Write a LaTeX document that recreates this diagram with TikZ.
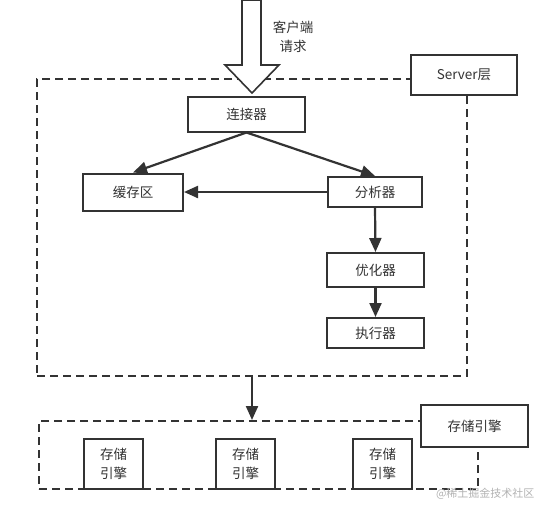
\documentclass[tikz,border=0pt]{standalone}
\usepackage{fontspec}
\setmainfont{Noto Sans CJK SC}
\usetikzlibrary{arrows.meta}
\definecolor{ink}{HTML}{333333}
\tikzset{
  box/.style={draw=ink, line width=2pt, fill=white, text=ink, inner sep=0pt, font=\fontsize{13.5}{16}\selectfont},
  dashbox/.style={draw=ink, line width=2pt, dash pattern=on 8pt off 5pt, inner sep=0pt},
  conn/.style={draw=ink, line width=2.2pt, -{Triangle[length=14pt,width=12pt]}},
}
\begin{document}
\begin{tikzpicture}[x=1pt,y=-1pt]
\useasboundingbox (0,0) rectangle (540,504);
% dashed groups
\node[dashbox, minimum width=430pt, minimum height=297pt] (server) at (252,227.5) {};
\node[dashbox, minimum width=439pt, minimum height=68pt] (storage) at (258.5,455) {};
% labels of groups
\node[box, minimum width=106pt, minimum height=40pt] (serverlbl) at (464,75) {Server层};
\node[box, minimum width=107pt, minimum height=42pt] (storagelbl) at (474.5,426) {存储引擎};
% big client arrow
\filldraw[draw=ink, fill=white, line width=1.6pt, line join=miter]
  (242,0) -- (261,0) -- (261,65) -- (279,65) -- (252,93) -- (225,65) -- (242,65) -- cycle;
\node[text=ink, align=center, font=\fontsize{13.5}{19}\selectfont] (client) at (293,37) {客户端\\请求};
% nodes
\node[box, minimum width=117pt, minimum height=35pt] (conn) at (246.5,114) {连接器};
\node[box, minimum width=100pt, minimum height=37pt] (cache) at (133,192) {缓存区};
\node[box, minimum width=94pt, minimum height=30pt] (parse) at (375,192) {分析器};
\node[box, minimum width=97pt, minimum height=34pt] (opt) at (375.5,270) {优化器};
\node[box, minimum width=97pt, minimum height=30pt] (exec) at (375.5,333) {执行器};
\node[box, align=center, minimum width=59pt, minimum height=50pt, font=\fontsize{13.5}{19}\selectfont] (e1) at (113.5,464) {存储\\引擎};
\node[box, align=center, minimum width=59pt, minimum height=50pt, font=\fontsize{13.5}{19}\selectfont] (e2) at (245.5,464) {存储\\引擎};
\node[box, align=center, minimum width=59pt, minimum height=50pt, font=\fontsize{13.5}{19}\selectfont] (e3) at (382.5,464) {存储\\引擎};
% connectors
\draw[conn] (conn.south) -- (cache.north);
\draw[conn] (conn.south) -- (parse.north);
\draw[conn] (parse.west) -- (cache.east);
\draw[conn] (parse.south) -- (opt.north);
\draw[conn] (opt.south) -- (exec.north);
\draw[conn] (server.south) -- (server.south |- storage.north);
% watermark
\node[text=black!30, anchor=east, font=\fontsize{11}{12}\selectfont] (wm) at (538,494) {@稀土掘金技术社区};
\end{tikzpicture}
\end{document}
